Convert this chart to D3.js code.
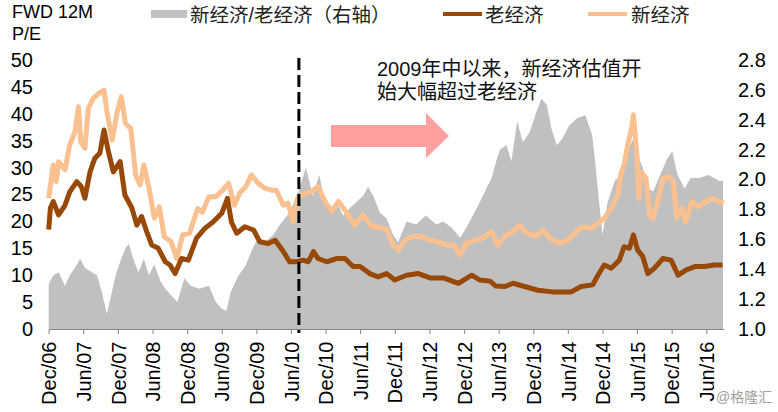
<!DOCTYPE html>
<html><head><meta charset="utf-8">
<script src="https://cdn.jsdelivr.net/npm/d3@7/dist/d3.min.js"></script>
<style>
body{margin:0;background:#fff;}
svg{display:block;}
text{font-family:"Liberation Sans",Arial,"Noto Sans CJK SC",sans-serif;}
.cjk{font-family:"Liberation Sans","Noto Sans CJK SC",sans-serif;}
</style></head>
<body>
<svg id="chart" width="778" height="412"></svg>
<script>
// ---- DATA ----
const oldDates = ["2006-12-01","2006-12-10","2006-12-25","2007-01-22","2007-02-25","2007-03-22","2007-04-28","2007-05-22","2007-06-10","2007-07-07","2007-08-01","2007-08-28","2007-09-19","2007-10-10","2007-11-07","2007-12-13","2008-01-07","2008-02-13","2008-03-10","2008-04-04","2008-05-01","2008-05-28","2008-07-01","2008-08-07","2008-09-01","2008-09-28","2008-11-01","2008-12-07","2009-01-19","2009-03-04","2009-04-16","2009-06-01","2009-07-01","2009-07-22","2009-08-19","2009-10-01","2009-11-16","2009-12-19","2010-02-01","2010-03-10","2010-04-22","2010-05-25","2010-07-01","2010-08-04","2010-09-01","2010-09-28","2010-10-22","2010-12-07","2011-01-28","2011-03-13","2011-04-25","2011-06-01","2011-07-22","2011-09-04","2011-10-19","2011-12-01","2012-02-01","2012-04-04","2012-06-04","2012-08-13","2012-11-01","2013-01-10","2013-02-22","2013-04-16","2013-05-16","2013-07-04","2013-08-16","2013-10-16","2013-12-25","2014-03-13","2014-06-19","2014-08-10","2014-10-10","2014-11-07","2014-12-10","2015-01-16","2015-02-28","2015-03-25","2015-04-22","2015-05-13","2015-06-04","2015-07-01","2015-07-28","2015-09-01","2015-10-16","2015-11-28","2016-01-04","2016-02-16","2016-04-01","2016-05-22","2016-07-13","2016-08-25"];
const oldValues = [18.5,22.5,23.7,21.2,23.0,25.5,27.4,26.5,24.3,29.2,31.7,32.7,37.0,33.3,29.2,31.1,24.9,22.5,19.3,20.9,18.1,15.6,15.0,12.5,11.9,10.3,13.1,12.8,16.9,18.7,19.9,21.5,24.3,19.9,17.8,19.0,18.4,16.2,15.9,16.5,14.4,12.5,12.5,12.8,12.5,14.4,13.1,12.5,13.1,13.1,11.6,11.6,10.3,9.7,10.3,9.1,10.0,10.3,9.5,9.5,8.5,10.0,9.1,8.9,8.0,7.9,8.5,7.9,7.2,6.9,6.9,7.9,8.2,10.0,11.9,11.3,12.8,15.3,15.0,17.5,14.7,13.5,10.3,11.3,13.1,12.8,10.0,11.0,11.6,11.6,11.9,11.9];

const newDates = ["2006-12-01","2006-12-25","2007-01-10","2007-01-22","2007-02-25","2007-03-22","2007-04-19","2007-05-07","2007-05-19","2007-06-10","2007-06-28","2007-07-25","2007-08-22","2007-09-19","2007-10-04","2007-11-01","2007-11-28","2007-12-19","2008-01-10","2008-02-07","2008-03-04","2008-03-28","2008-04-16","2008-05-13","2008-06-10","2008-07-07","2008-08-01","2008-09-07","2008-10-07","2008-11-07","2008-12-13","2009-01-25","2009-02-19","2009-03-25","2009-05-01","2009-06-07","2009-07-07","2009-08-07","2009-09-04","2009-10-07","2009-11-04","2009-12-10","2010-01-13","2010-02-19","2010-03-16","2010-04-22","2010-05-16","2010-06-13","2010-07-07","2010-08-13","2010-09-16","2010-10-22","2010-11-28","2011-01-01","2011-02-07","2011-03-19","2011-05-04","2011-06-16","2011-08-01","2011-09-13","2011-10-19","2011-11-22","2011-12-19","2012-01-25","2012-03-07","2012-04-19","2012-06-04","2012-07-16","2012-09-01","2012-10-04","2012-11-10","2012-12-13","2013-01-28","2013-03-10","2013-04-25","2013-05-28","2013-07-04","2013-08-16","2013-09-22","2013-10-16","2013-11-22","2013-12-16","2014-01-22","2014-02-25","2014-04-16","2014-06-01","2014-07-16","2014-08-19","2014-10-01","2014-11-07","2014-12-10","2015-01-16","2015-02-19","2015-03-07","2015-03-25","2015-04-13","2015-05-04","2015-05-13","2015-06-01","2015-06-10","2015-06-22","2015-07-19","2015-08-07","2015-08-25","2015-09-22","2015-10-16","2015-11-13","2015-12-10","2015-12-28","2016-01-25","2016-02-13","2016-03-16","2016-04-22","2016-05-28","2016-07-01","2016-08-07","2016-09-01"];
const newValues = [24.3,30.5,27.4,31.1,29.6,34.2,36.7,41.3,34.8,33.6,41.0,42.9,43.8,44.4,40.4,35.1,40.4,43.2,38.2,37.3,28.6,26.8,30.5,26.2,20.6,22.7,17.2,16.2,13.1,17.5,17.8,22.4,21.7,24.6,24.6,25.8,27.1,23.0,25.3,26.5,28.6,27.1,26.2,25.8,25.8,23.0,23.4,19.9,24.3,25.2,25.5,26.5,23.7,21.8,23.7,21.8,19.3,21.2,19.1,18.9,18.6,15.6,14.7,16.5,17.2,17.2,16.5,16.2,15.6,15.6,13.8,15.9,16.5,16.9,18.1,15.6,17.2,18.1,19.3,18.1,17.5,17.2,18.4,16.9,15.9,16.5,18.1,19.0,18.7,19.6,20.6,22.4,24.9,28.6,30.5,34.2,37.3,39.8,32.3,24.3,29.2,28.0,21.2,20.6,24.3,28.0,28.3,27.4,20.6,22.4,19.9,23.7,22.7,23.7,24.3,23.7,23.4];

const ratioDates = ["2006-12-01","2006-12-25","2007-01-22","2007-02-25","2007-03-22","2007-04-19","2007-05-16","2007-06-10","2007-07-16","2007-08-13","2007-09-07","2007-10-04","2007-10-22","2007-11-19","2007-12-13","2008-01-10","2008-01-28","2008-02-25","2008-03-19","2008-04-16","2008-05-13","2008-06-10","2008-07-13","2008-08-07","2008-09-04","2008-10-10","2008-11-16","2008-12-19","2009-02-04","2009-03-25","2009-05-01","2009-05-28","2009-06-25","2009-07-19","2009-08-25","2009-10-07","2009-11-04","2009-12-10","2010-01-22","2010-03-01","2010-04-04","2010-05-25","2010-07-16","2010-08-19","2010-09-25","2010-10-28","2010-11-25","2011-01-01","2011-01-28","2011-03-04","2011-04-07","2011-05-13","2011-06-16","2011-07-13","2011-08-10","2011-09-13","2011-10-19","2011-11-22","2011-12-19","2012-02-01","2012-03-22","2012-05-13","2012-07-07","2012-08-13","2012-09-25","2012-11-10","2012-12-13","2013-01-16","2013-02-22","2013-03-28","2013-04-25","2013-05-19","2013-06-07","2013-07-13","2013-08-07","2013-09-07","2013-10-07","2013-11-13","2013-12-16","2014-01-13","2014-02-10","2014-03-07","2014-04-04","2014-05-01","2014-06-07","2014-07-19","2014-09-01","2014-10-07","2014-10-25","2014-11-13","2014-12-01","2014-12-28","2015-02-04","2015-03-07","2015-04-13","2015-05-10","2015-06-07","2015-07-01","2015-07-28","2015-08-25","2015-10-01","2015-11-07","2015-12-04","2016-01-01","2016-02-07","2016-03-10","2016-04-25","2016-06-10","2016-07-13","2016-08-10","2016-08-28"];
const ratioValues = [1.30,1.36,1.38,1.29,1.36,1.41,1.47,1.41,1.38,1.36,1.25,1.10,1.20,1.36,1.45,1.54,1.57,1.45,1.38,1.47,1.36,1.43,1.32,1.27,1.23,1.18,1.34,1.29,1.27,1.29,1.18,1.14,1.12,1.25,1.35,1.43,1.52,1.61,1.59,1.63,1.70,1.78,1.94,2.08,1.89,2.03,1.87,1.82,1.85,1.76,1.81,1.85,1.89,1.95,1.89,1.78,1.74,1.63,1.58,1.72,1.70,1.76,1.70,1.72,1.68,1.61,1.68,1.76,1.85,1.94,2.01,2.12,2.20,2.23,2.12,2.39,2.25,2.32,2.45,2.54,2.50,2.34,2.23,2.27,2.36,2.41,2.43,2.30,2.10,1.85,1.63,1.85,1.99,2.03,2.19,2.27,2.16,2.08,1.94,1.92,2.03,2.14,2.19,2.03,1.94,2.01,2.01,2.03,2.01,1.99,1.99];

const xTickDates = ["2006-12-01","2007-06-01","2007-12-01","2008-06-01","2008-12-01","2009-06-01","2009-12-01","2010-06-01","2010-12-01","2011-06-01","2011-12-01","2012-06-01","2012-12-01","2013-06-01","2013-12-01","2014-06-01","2014-12-01","2015-06-01","2015-12-01","2016-06-01"];
const xTickLabels = ["Dec/06","Jun/07","Dec/07","Jun/08","Dec/08","Jun/09","Dec/09","Jun/10","Dec/10","Jun/11","Dec/11","Jun/12","Dec/12","Jun/13","Dec/13","Jun/14","Dec/14","Jun/15","Dec/15","Jun/16"];
const leftTicks = [0,5,10,15,20,25,30,35,40,45,50];
const rightTicks = [1.0,1.2,1.4,1.6,1.8,2.0,2.2,2.4,2.6,2.8];
const markerDate = "2010-07-13";

// ---- CHART ----
const parse = d3.timeParse("%Y-%m-%d");
const svg = d3.select("#chart");
const x = d3.scaleTime().domain([parse("2006-12-01"), parse("2016-09-01")]).range([48.7, 723.8]);
const yL = d3.scaleLinear().domain([0, 50]).range([329, 60]);
const yR = d3.scaleLinear().domain([1.0, 2.8]).range([329, 60]);

const zip = (ds, vs) => ds.map((d, i) => ({date: parse(d), v: vs[i]}));
const oldData = zip(oldDates, oldValues);
const newData = zip(newDates, newValues);
const ratioData = zip(ratioDates, ratioValues);

// area
svg.append("path").datum(ratioData)
  .attr("fill", "#C0C0C0")
  .attr("d", d3.area().x(d => x(d.date)).y0(yR(1.0)).y1(d => yR(d.v)));

// lines
const lineL = d3.line().x(d => x(d.date)).y(d => yL(d.v));
svg.append("path").datum(newData).attr("fill", "none").attr("stroke", "#FAC090")
  .attr("stroke-width", 5).attr("stroke-linejoin", "round").attr("d", lineL);
svg.append("path").datum(oldData).attr("fill", "none").attr("stroke", "#984807")
  .attr("stroke-width", 5).attr("stroke-linejoin", "round").attr("d", lineL);

// bottom axis
const xAxis = d3.axisBottom(x).tickValues(xTickDates.map(parse))
  .tickFormat((d, i) => xTickLabels[i]).tickSize(5).tickSizeOuter(0);
const gx = svg.append("g").attr("transform", "translate(0,329)").call(xAxis);
gx.select(".domain").attr("stroke", "#868686").attr("stroke-width", 1.2);
gx.selectAll(".tick line").attr("stroke", "#868686");
gx.selectAll(".tick text")
  .attr("transform", "rotate(-90)").attr("x", -12.5).attr("y", 0).attr("dy", "0.36em")
  .style("text-anchor", "end").style("font-size", "20px").attr("fill", "#000")
  .style("font-family", "'Liberation Sans', Arial, sans-serif");

// left axis
const gl = svg.append("g").attr("transform", "translate(33,0)")
  .call(d3.axisLeft(yL).tickValues(leftTicks).tickSize(0).tickPadding(0));
gl.select(".domain").remove();
gl.selectAll("text").style("font-size", "20px").attr("fill", "#000")
  .style("font-family", "'Liberation Sans', Arial, sans-serif");

// right axis
const gr = svg.append("g").attr("transform", "translate(738,0)")
  .call(d3.axisRight(yR).tickValues(rightTicks).tickFormat(d3.format(".1f")).tickSize(0).tickPadding(0));
gr.select(".domain").remove();
gr.selectAll("text").style("font-size", "20px").attr("fill", "#000")
  .style("font-family", "'Liberation Sans', Arial, sans-serif");

// dashed marker
svg.append("line")
  .attr("x1", x(parse(markerDate))).attr("x2", x(parse(markerDate)))
  .attr("y1", 58).attr("y2", 333)
  .attr("stroke", "#000").attr("stroke-width", 3).attr("stroke-dasharray", "12,5");

// arrow
svg.append("polygon")
  .attr("points", "331,125 426,125 426,113 449,136 426,158 426,147 331,147")
  .attr("fill", "#FF9F9F");

// annotation
svg.append("text").attr("class", "cjk").attr("x", 377).attr("y", 76)
  .style("font-size", "20px").attr("fill", "#111").text("2009年中以来，新经济估值开");
svg.append("text").attr("class", "cjk").attr("x", 377).attr("y", 99)
  .style("font-size", "20px").attr("fill", "#111").text("始大幅超过老经济");

// title
svg.append("text").attr("x", 12).attr("y", 18).style("font-size", "18px").text("FWD 12M");
svg.append("text").attr("x", 12).attr("y", 40).style("font-size", "18px").text("P/E");

// legend
svg.append("rect").attr("x", 151).attr("y", 10).attr("width", 36).attr("height", 8).attr("fill", "#C0C0C0");
svg.append("text").attr("class", "cjk").attr("x", 190).attr("y", 22).style("font-size", "19.5px")
  .attr("fill", "#222").text("新经济/老经济（右轴）");
svg.append("line").attr("x1", 443).attr("x2", 482).attr("y1", 14).attr("y2", 14)
  .attr("stroke", "#984807").attr("stroke-width", 4);
svg.append("text").attr("class", "cjk").attr("x", 485).attr("y", 22).style("font-size", "19.5px")
  .attr("fill", "#222").text("老经济");
svg.append("line").attr("x1", 588).attr("x2", 627).attr("y1", 14).attr("y2", 14)
  .attr("stroke", "#FAC090").attr("stroke-width", 4);
svg.append("text").attr("class", "cjk").attr("x", 631).attr("y", 22).style("font-size", "19.5px")
  .attr("fill", "#222").text("新经济");

// watermark
svg.append("text").attr("class", "cjk").attr("x", 716).attr("y", 402).style("font-size", "14px")
  .attr("fill", "#A0A0A0").text("@格隆汇");
</script>
</body></html>
